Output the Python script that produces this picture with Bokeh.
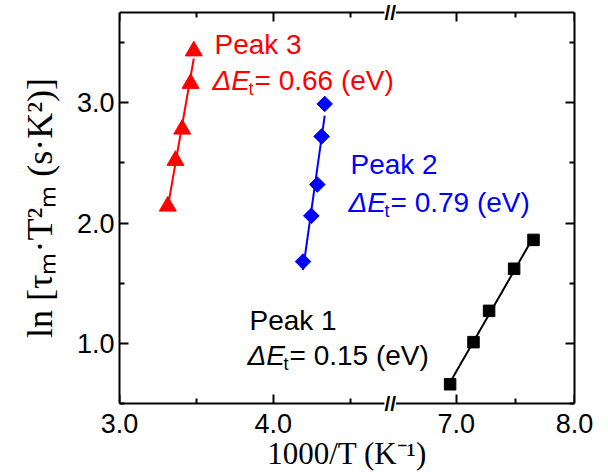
import numpy as np
from bokeh.plotting import figure
from bokeh.models import Range1d, LinearAxis, FixedTicker, CustomJSTickFormatter, Label
from bokeh.embed import file_html
from bokeh.resources import INLINE

# ---- data ----
peak3_x = [3.483, 3.462, 3.408, 3.364, 3.314]
peak3_y = [3.43, 3.16, 2.78, 2.52, 2.14]
peak2_x = [4.334, 4.314, 4.286, 4.247, 4.193]
peak2_y = [2.99, 2.72, 2.32, 2.06, 1.68]
peak1_x = [6.947, 7.145, 7.277, 7.489, 7.653]
peak1_y = [0.66, 1.01, 1.27, 1.62, 1.86]

peak_names = ["Peak 1", "Peak 2", "Peak 3"]
peak_energies = ["0.15", "0.79", "0.66"]

x_major = [3.0, 4.0, 7.0, 8.0]
x_minor = [3.5, 4.5, 7.5]
y_major = [1.0, 2.0, 3.0]
y_minor = [0.5, 1.5, 2.5, 3.5]

x_title = "1000/T (K\u207b\u00b9)"
y_title = "ln [\u03c4\u2098\u00b7T\u00b2\u2098 (s\u00b7K\u00b2)]"

# broken x axis: [3.0, 4.76] // [6.44, 8.0]
X_LO, BRK_LO, BRK_HI, X_HI = 3.0, 4.76, 6.44, 8.0
RIGHT_SCALE = 0.768
Y_LO, Y_HI = 0.5, 3.75


def to_u(x):
    x = np.asarray(x, dtype=float)
    return np.where(x <= BRK_LO, x, BRK_LO + (x - BRK_HI) * RIGHT_SCALE)


U_HI = float(to_u(X_HI))
W, H = 608, 476
FL, FR, FT, FB = 119, 574, 12, 403   # box edges in page pixels
PAD = 8                              # frame extends PAD px beyond the box, top and bottom
PPU_X = (FR - FL) / (U_HI - X_LO)
PPU_Y = (FB - FT) / (Y_HI - Y_LO)

p = figure(width=W, height=H, output_backend="svg", toolbar_location=None,
           x_range=Range1d(X_LO, U_HI),
           y_range=Range1d(Y_LO - PAD / PPU_Y, Y_HI + PAD / PPU_Y),
           x_axis_type=None, y_axis_type=None,
           min_border_left=FL, min_border_right=W - FR,
           min_border_top=FT - PAD, min_border_bottom=H - FB - PAD)
p.outline_line_color = None
p.background_fill_color = "white"
p.border_fill_color = "white"

xt = FixedTicker(ticks=list(to_u(x_major)), minor_ticks=list(to_u(x_minor)))
yt = FixedTicker(ticks=y_major, minor_ticks=y_minor)
xf = CustomJSTickFormatter(args=dict(lo=BRK_LO, hi=BRK_HI, r=RIGHT_SCALE), code="""
const v = tick <= lo + 1e-9 ? tick : hi + (tick - lo) / r;
return v.toFixed(1);
""")
yf = CustomJSTickFormatter(code="return tick.toFixed(1);")
blank = CustomJSTickFormatter(code="return '';")


def ticks_style(ax):
    ax.axis_line_width = 2
    ax.axis_line_color = "black"
    ax.major_tick_in = 9
    ax.major_tick_out = 0
    ax.minor_tick_in = 5
    ax.minor_tick_out = 0
    ax.major_tick_line_width = 2
    ax.minor_tick_line_width = 2
    ax.major_tick_line_color = "black"
    ax.minor_tick_line_color = "black"


def no_labels(ax):
    ax.major_label_text_font_size = "0px"
    ax.major_label_standoff = 0


def label_style(ax):
    ax.major_label_text_font = "Liberation Sans"
    ax.major_label_text_font_size = "27px"
    ax.major_label_text_color = "black"
    ax.axis_label_text_font = "Liberation Serif"
    ax.axis_label_text_font_style = "normal"
    ax.axis_label_text_color = "black"


# horizontal box edges: axes fixed at the data limits (lines + inward ticks)
bottom_line = LinearAxis(ticker=xt, formatter=blank, fixed_location=Y_LO)
top_line = LinearAxis(ticker=xt, formatter=blank, fixed_location=Y_HI)
for ax in (bottom_line, top_line):
    ticks_style(ax)
    no_labels(ax)

# bottom tick labels + title
bottom = LinearAxis(ticker=xt, formatter=xf, axis_label=x_title)
label_style(bottom)
bottom.axis_line_color = None
bottom.major_tick_line_color = None
bottom.minor_tick_line_color = None
bottom.major_tick_in = 0
bottom.major_tick_out = 0
bottom.minor_tick_in = 0
bottom.minor_tick_out = 0
bottom.major_label_standoff = 2
bottom.axis_label_standoff = 0
bottom.axis_label_text_font_size = "31px"

# vertical box edges
left = LinearAxis(ticker=yt, formatter=yf, axis_label=y_title, bounds=(Y_LO, Y_HI))
right = LinearAxis(ticker=yt, formatter=blank, bounds=(Y_LO, Y_HI))
ticks_style(left)
ticks_style(right)
label_style(left)
no_labels(right)
left.major_label_standoff = 5
left.axis_label_standoff = 14
left.axis_label_text_font_size = "36px"

p.add_layout(bottom_line, "below")
p.add_layout(bottom, "below")
p.add_layout(top_line, "above")
p.add_layout(left, "left")
p.add_layout(right, "right")


# ---- fit lines + markers ----
def fit(xs, ys):
    a, b = np.polyfit(xs, ys, 1)
    xx = np.array([min(xs), max(xs)])
    return xx, a * xx + b


for xs, ys, col in [(peak3_x, peak3_y, "#ff0000"), (peak2_x, peak2_y, "#0000ff"),
                    (peak1_x, peak1_y, "black")]:
    fx, fy = fit(xs, ys)
    p.line(to_u(fx), fy, line_color=col, line_width=2)

p.scatter(to_u(peak3_x), peak3_y, marker="triangle", size=17, color="#ff0000")
p.scatter(to_u(peak2_x), peak2_y, marker="square", angle=np.pi / 4, size=11, color="#0000ff")
p.scatter(to_u(peak1_x), peak1_y, marker="square", size=11.5, color="black")


# ---- annotation text (page pixel position -> data position) ----
BASE_FIX = 8  # rendered alphabetic baseline sits this many px lower


def piece(text, px, py, size, style="normal", color="black", font="Liberation Sans"):
    p.add_layout(Label(x=X_LO + (px - FL) / PPU_X,
                       y=Y_LO + (FB - (py - BASE_FIX)) / PPU_Y,
                       text=text, text_font=font, text_font_size=f"{size}px",
                       text_font_style=style, text_color=color,
                       text_baseline="alphabetic", text_align="left"))


blocks = [(peak_names[2], peak_energies[2], "#ff0000", 214, 52, 88),
          (peak_names[1], peak_energies[1], "#0000ff", 350, 172, 210),
          (peak_names[0], peak_energies[0], "black", 249, 328, 363)]
for name, e, col, L, b1, b2 in blocks:
    piece(name, L, b1, 28, color=col)
    piece("\u0394E", L - 2, b2, 28, style="italic", color=col)
    piece("t", L + 34, b2 + 8, 18, color=col)
    piece(f"= {e} (eV)", L + 40, b2, 28, color=col)

# axis break marks
for yy in (Y_LO, Y_HI):
    p.add_layout(Label(x=BRK_LO, y=yy, text="//", text_font="Liberation Sans",
                       text_font_size="21px", text_font_style="bold",
                       text_align="center", text_baseline="middle",
                       background_fill_color="white", text_color="black"))

open("out.html", "w").write(file_html(p, INLINE))
